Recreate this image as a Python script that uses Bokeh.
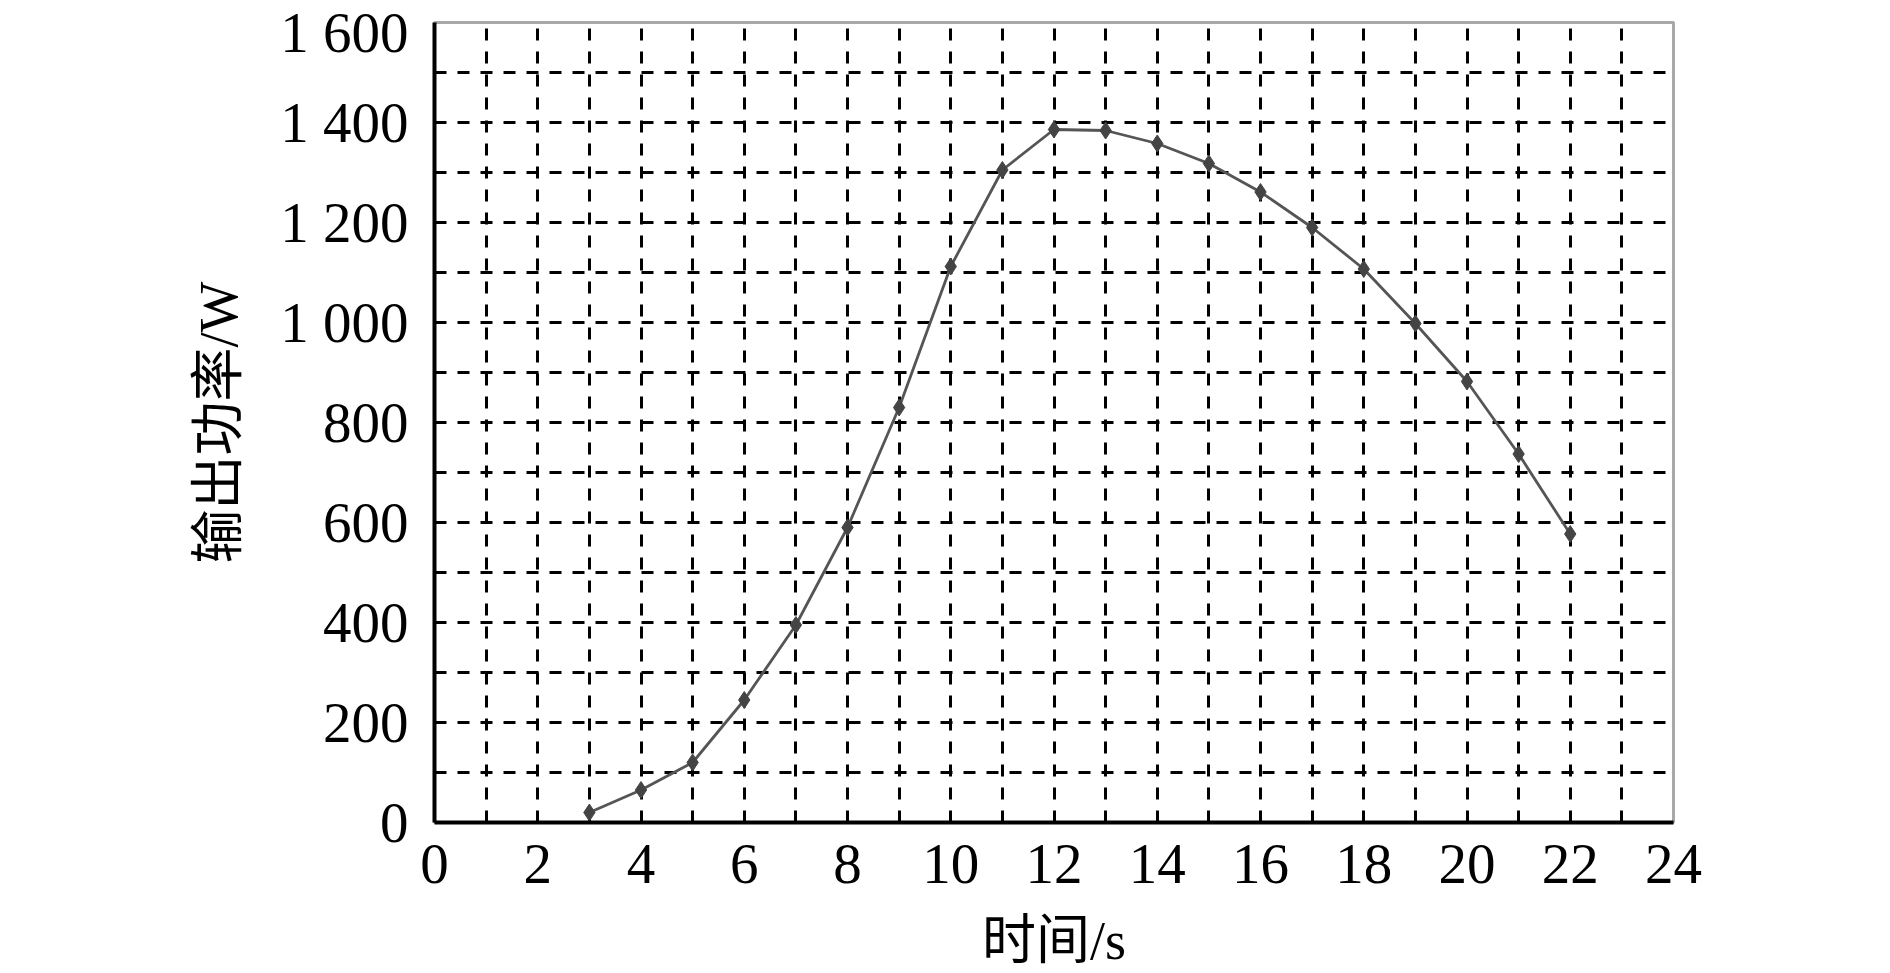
from bokeh.plotting import figure
from bokeh.models import FixedTicker
from bokeh.embed import file_html
from bokeh.resources import INLINE

time_s = [3, 4, 5, 6, 7, 8, 9, 10, 11, 12, 13, 14, 15, 16, 17, 18, 19, 20, 21, 22]
power_w = [20, 65, 120, 245, 395, 590, 830, 1112, 1305, 1386, 1384, 1358, 1318,
           1261, 1190, 1107, 998, 882, 737, 577]
x_ticks = [0, 2, 4, 6, 8, 10, 12, 14, 16, 18, 20, 22, 24]
y_ticks = [0, 200, 400, 600, 800, 1000, 1200, 1400, 1600]
y_tick_labels = ["0", "200", "400", "600", "800", "1 000", "1 200", "1 400", "1 600"]
x_grid = list(range(1, 24))
y_grid = list(range(100, 1600, 100))

SERIF = "'Liberation Serif', 'Times New Roman', 'Noto Sans CJK SC', serif"

p = figure(width=1874, height=973, x_range=(0, 24), y_range=(0, 1600),
           output_backend="svg", toolbar_location=None,
           min_border_left=434, min_border_right=201,
           min_border_top=22, min_border_bottom=149)

p.outline_line_color = "#a8a8a8"
p.outline_line_width = 3
p.background_fill_color = "white"

p.xgrid.ticker = FixedTicker(ticks=x_grid)
p.ygrid.ticker = FixedTicker(ticks=y_grid)
for g in (p.xgrid, p.ygrid):
    g.grid_line_color = "black"
    g.grid_line_width = 3
    g.grid_line_dash = "12 11"
    g.grid_line_alpha = 1.0

p.xaxis.ticker = FixedTicker(ticks=x_ticks)
p.yaxis.ticker = FixedTicker(ticks=y_ticks)
p.yaxis.major_label_overrides = {t: l for t, l in zip(y_ticks, y_tick_labels)}

for ax in (p.xaxis, p.yaxis):
    ax.axis_line_color = "black"
    ax.axis_line_width = 4
    ax.major_tick_out = 0
    ax.major_tick_in = 0
    ax.minor_tick_out = 0
    ax.minor_tick_in = 0
    ax.major_label_text_font = SERIF
    ax.major_label_text_font_size = "57px"
    ax.major_label_text_color = "black"
    ax.axis_label_text_font = SERIF
    ax.axis_label_text_font_size = "54px"
    ax.axis_label_text_font_style = "normal"
    ax.axis_label_text_color = "black"

p.xaxis.axis_label = "时间/s"
p.yaxis.axis_label = "输出功率/W"
p.xaxis.major_label_standoff = 22
p.yaxis.major_label_standoff = 26
p.xaxis.axis_label_standoff = 25
p.yaxis.axis_label_standoff = 28

p.line(time_s, power_w, line_color="#555555", line_width=2.8)
p.scatter(time_s, power_w, marker="diamond", size=17,
          fill_color="#444444", line_color="#444444")

open("out.html", "w").write(file_html(p, INLINE))
